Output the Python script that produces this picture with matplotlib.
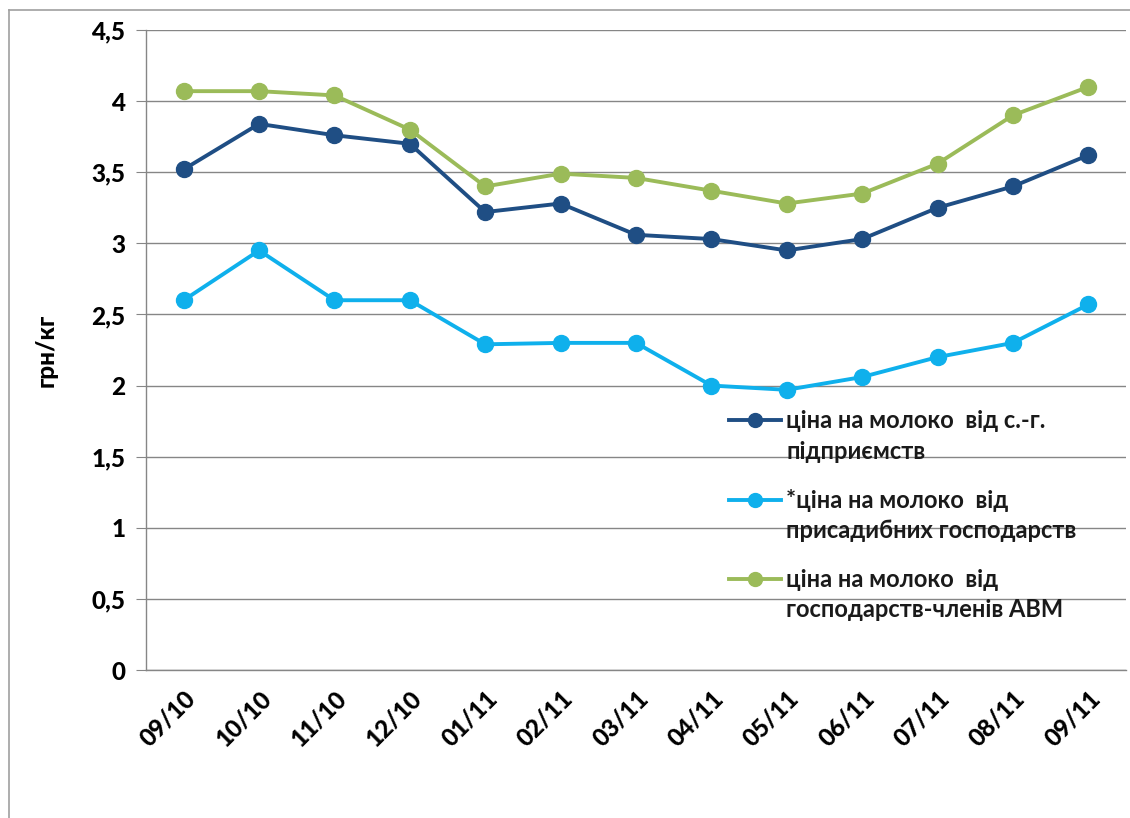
import matplotlib
matplotlib.use("Agg")
import numpy as np
import matplotlib.pyplot as plt
from matplotlib.ticker import FuncFormatter, MultipleLocator
from matplotlib.lines import Line2D
from matplotlib.legend_handler import HandlerLine2D

categories = ["09/10", "10/10", "11/10", "12/10", "01/11", "02/11", "03/11",
              "04/11", "05/11", "06/11", "07/11", "08/11", "09/11"]
enterprises = [3.52, 3.84, 3.76, 3.70, 3.22, 3.28, 3.06, 3.03, 2.95, 3.03, 3.25, 3.40, 3.62]
households = [2.60, 2.95, 2.60, 2.60, 2.29, 2.30, 2.30, 2.00, 1.97, 2.06, 2.20, 2.30, 2.57]
avm_members = [4.07, 4.07, 4.04, 3.80, 3.40, 3.49, 3.46, 3.37, 3.28, 3.35, 3.56, 3.90, 4.10]
labels = ["ціна на молоко  від с.-г.\nпідприємств",
          "*ціна на молоко  від\nприсадибних господарств",
          "ціна на молоко  від\nгосподарств-членів АВМ"]
colors = ["#1F4E84", "#0FB0EC", "#9BBB59"]

plt.rcParams['font.family'] = ['Lato', 'DejaVu Sans']


class TopHandler(HandlerLine2D):
    def create_artists(self, legend, orig_handle, xdescent, ydescent, width, height,
                       fontsize, trans):
        arts = super().create_artists(legend, orig_handle, xdescent, ydescent, width,
                                      height, fontsize, trans)
        for a in arts:
            a.set_ydata(np.asarray(a.get_ydata(), dtype=float) + 0.72 * fontsize)
        return arts


fig = plt.figure(figsize=(11.3, 8.18), dpi=100)
ax = fig.add_axes([146/1130, 148/818, 980/1130, 640/818])

x = list(range(len(categories)))
for vals, c in zip([enterprises, households, avm_members], colors):
    ax.plot(x, vals, color=c, lw=2.8, marker='o', markersize=11.5, zorder=3)

ax.set_xlim(-0.5, len(categories) - 0.5)
ax.set_ylim(0, 4.5)
ax.yaxis.set_major_locator(MultipleLocator(0.5))
ax.yaxis.set_major_formatter(FuncFormatter(lambda v, p: ('%g' % v).replace('.', ',')))
ax.grid(axis='y', color='#868686', lw=1)
ax.set_axisbelow(True)
for s in ['top', 'right']:
    ax.spines[s].set_visible(False)
for s in ['left', 'bottom']:
    ax.spines[s].set_color('#868686')
    ax.spines[s].set_linewidth(1)
ax.tick_params(axis='y', length=7, color='#868686', labelsize=17.5, pad=8)
ax.tick_params(axis='x', length=0, labelsize=17.5, pad=12)
ax.set_xticks(x)
ax.set_xticklabels(categories, rotation=45, ha='right', va='top', rotation_mode='anchor')
for t in ax.get_xticklabels() + ax.get_yticklabels():
    t.set_fontweight('black')
ax.set_ylabel("грн/кг", fontsize=17.5, fontweight='black', labelpad=24)

handles = [Line2D([0], [0], color=c, lw=2.8, marker='o', markersize=10) for c in colors]
leg = ax.legend(handles, labels, loc='upper left', bbox_to_anchor=(574/980, (670-400)/640),
                frameon=False, prop={'weight': 'bold', 'size': 17}, handlelength=2.2,
                labelspacing=1.08, handletextpad=0.2, borderaxespad=0,
                handler_map={Line2D: TopHandler()})
for t in leg.get_texts():
    t.set_color('#1a1a1a')
    t.set_linespacing(1.4)

# outer border
fig.add_artist(Line2D([9/1130, 9/1130], [0, 1 - 10/818], color='#A0A0A0', lw=1.2))
fig.add_artist(Line2D([9/1130, 1], [1 - 10/818, 1 - 10/818], color='#A0A0A0', lw=1.2))

fig.savefig("out.png", dpi=100)
